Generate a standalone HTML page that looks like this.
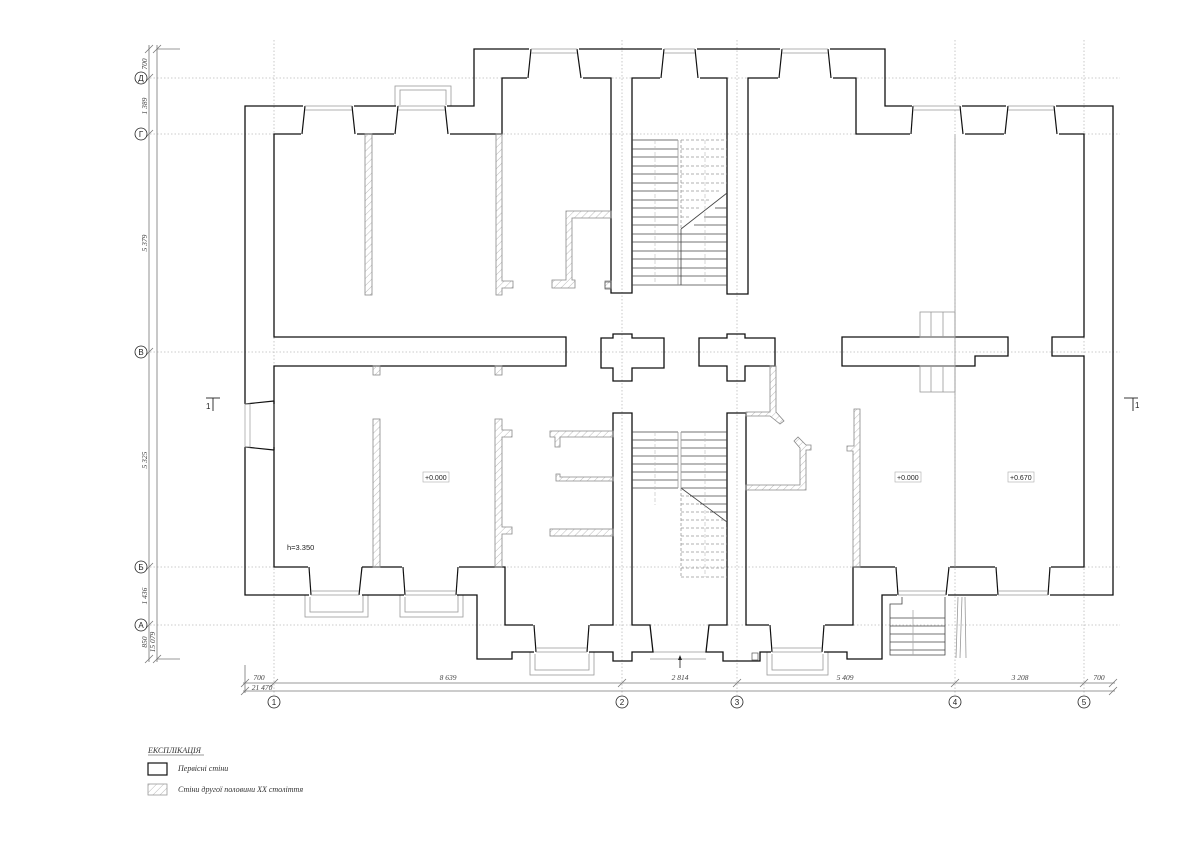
<!DOCTYPE html>
<html><head><meta charset="utf-8"><style>
html,body{margin:0;padding:0;background:#fff;}
svg{display:block;}
.w{fill:none;stroke:#111;stroke-width:1.3;stroke-linejoin:miter}
.g{stroke:#bbb;stroke-width:0.8;stroke-dasharray:1.5 2;fill:none}
.gl{stroke:#999;stroke-width:0.8;fill:none}
.h{fill:url(#hat);stroke:#888;stroke-width:0.8}
.t{font-family:"Liberation Serif",serif;font-style:italic;font-size:7.5px;fill:#444}
.c{fill:#fff;stroke:#222;stroke-width:0.8}
.ct{font-family:"Liberation Sans",sans-serif;font-size:8px;fill:#222;text-anchor:middle}
.st{stroke:#444;stroke-width:0.8}
.sd{stroke:#999;stroke-width:0.8;stroke-dasharray:3 2}
</style></head><body>
<svg width="1200" height="848" viewBox="0 0 1200 848" xmlns="http://www.w3.org/2000/svg">
<defs>
<pattern id="hat" width="5" height="5" patternUnits="userSpaceOnUse" patternTransform="rotate(45)">
<line x1="0" y1="0" x2="0" y2="5" stroke="#bbb" stroke-width="1"/>
</pattern>
</defs>
<rect width="1200" height="848" fill="#fff"/>

<!-- grid -->
<g class="g">
<line x1="150" y1="78" x2="1120" y2="78"/>
<line x1="150" y1="134" x2="1120" y2="134"/>
<line x1="150" y1="352" x2="1120" y2="352"/>
<line x1="150" y1="567" x2="1120" y2="567"/>
<line x1="150" y1="625" x2="1120" y2="625"/>
<line x1="274" y1="40" x2="274" y2="695"/>
<line x1="622" y1="40" x2="622" y2="695"/>
<line x1="737" y1="40" x2="737" y2="695"/>
<line x1="955" y1="40" x2="955" y2="695"/>
<line x1="1084" y1="40" x2="1084" y2="695"/>
</g>

<!-- left dimension -->
<g stroke="#777" stroke-width="0.8">
<line x1="149" y1="45" x2="149" y2="662"/>
<line x1="157" y1="45" x2="157" y2="662"/>
<line x1="157" y1="49" x2="180" y2="49"/>
<line x1="157" y1="659" x2="180" y2="659"/>
<line x1="145" y1="53" x2="153" y2="45"/><line x1="153" y1="53" x2="161" y2="45"/>
<line x1="145" y1="82" x2="153" y2="74"/>
<line x1="145" y1="138" x2="153" y2="130"/>
<line x1="145" y1="356" x2="153" y2="348"/>
<line x1="145" y1="571" x2="153" y2="563"/>
<line x1="145" y1="629" x2="153" y2="621"/>
<line x1="145" y1="663" x2="153" y2="655"/><line x1="153" y1="663" x2="161" y2="655"/>
</g>
<g class="t">
<text transform="translate(147,64) rotate(-90)" text-anchor="middle">700</text>
<text transform="translate(147,106) rotate(-90)" text-anchor="middle">1 389</text>
<text transform="translate(147,243) rotate(-90)" text-anchor="middle">5 379</text>
<text transform="translate(147,460) rotate(-90)" text-anchor="middle">5 325</text>
<text transform="translate(147,596) rotate(-90)" text-anchor="middle">1 436</text>
<text transform="translate(147,642) rotate(-90)" text-anchor="middle">850</text>
<text transform="translate(155,642) rotate(-90)" text-anchor="middle">15 079</text>
</g>
<g>
<circle class="c" cx="141" cy="78" r="6"/><text class="ct" x="141" y="81">Д</text>
<circle class="c" cx="141" cy="134" r="6"/><text class="ct" x="141" y="137">Г</text>
<circle class="c" cx="141" cy="352" r="6"/><text class="ct" x="141" y="355">В</text>
<circle class="c" cx="141" cy="567" r="6"/><text class="ct" x="141" y="570">Б</text>
<circle class="c" cx="141" cy="625" r="6"/><text class="ct" x="141" y="628">А</text>
</g>

<!-- bottom dimension -->
<g stroke="#777" stroke-width="0.8">
<line x1="245" y1="665" x2="245" y2="693"/>
<line x1="243" y1="683" x2="1115" y2="683"/>
<line x1="243" y1="691" x2="1115" y2="691"/>
<g>
<line x1="241" y1="687" x2="249" y2="679"/>
<line x1="270" y1="687" x2="278" y2="679"/>
<line x1="618" y1="687" x2="626" y2="679"/>
<line x1="733" y1="687" x2="741" y2="679"/>
<line x1="951" y1="687" x2="959" y2="679"/>
<line x1="1080" y1="687" x2="1088" y2="679"/>
<line x1="1109" y1="687" x2="1117" y2="679"/>
<line x1="241" y1="695" x2="249" y2="687"/>
<line x1="1109" y1="695" x2="1117" y2="687"/>
</g>
</g>
<g class="t" text-anchor="middle">
<text x="259" y="680">700</text>
<text x="448" y="680">8 639</text>
<text x="680" y="680">2 814</text>
<text x="845" y="680">5 409</text>
<text x="1020" y="680">3 208</text>
<text x="1099" y="680">700</text>
<text x="262" y="690">21 470</text>
</g>
<g>
<circle class="c" cx="274" cy="702" r="6"/><text class="ct" x="274" y="705">1</text>
<circle class="c" cx="622" cy="702" r="6"/><text class="ct" x="622" y="705">2</text>
<circle class="c" cx="737" cy="702" r="6"/><text class="ct" x="737" y="705">3</text>
<circle class="c" cx="955" cy="702" r="6"/><text class="ct" x="955" y="705">4</text>
<circle class="c" cx="1084" cy="702" r="6"/><text class="ct" x="1084" y="705">5</text>
</g>

<!-- balconies / sills gray -->
<g class="gl">
<rect x="395" y="86" width="56" height="20"/><rect x="400" y="90" width="46" height="16"/>
<rect x="305" y="595" width="63" height="22"/><rect x="310" y="595" width="53" height="17"/>
<rect x="400" y="595" width="63" height="22"/><rect x="405" y="595" width="53" height="17"/>
<rect x="530" y="652" width="64" height="23"/><rect x="535" y="652" width="54" height="18"/>
<rect x="767" y="652" width="61" height="23"/><rect x="772" y="652" width="51" height="18"/>
<line x1="650" y1="652" x2="706" y2="652"/><line x1="650" y1="659" x2="706" y2="659"/>
</g>

<!-- main walls -->
<polygon class="w" points="245,106 474,106 474,49 885,49 885,106 1113,106 1113,595 882,595 882,659 847,659 847,652 760,652 760,661 723,661 723,652 706,652 709,625 727,625 727,413 746,413 746,625 853,625 853,567 1084,567 1084,356 1052,356 1052,337 1084,337 1084,134 856,134 856,78 748,78 748,294 727,294 727,78 632,78 632,293 611,293 611,78 502,78 502,134 274,134 274,337 566,337 566,366 274,366 274,567 505,567 505,625 613,625 613,413 632,413 632,625 650,625 653,652 632,652 632,661 613,661 613,652 512,652 512,659 477,659 477,595 245,595"/>
<polygon class="w" points="842,337 1008,337 1008,356 975,356 975,366 842,366"/>
<polygon class="w" points="601,338 613,338 613,334 632,334 632,338 664,338 664,368 632,368 632,381 613,381 613,368 601,368"/>
<polygon class="w" points="699,338 727,338 727,334 745,334 745,338 775,338 775,366 745,366 745,381 727,381 727,366 699,366"/>

<!-- door left -->
<g>
<rect x="244" y="404" width="31" height="43" fill="#fff"/>
<line x1="245" y1="404" x2="274" y2="401" stroke="#111" stroke-width="1.2"/>
<line x1="245" y1="447" x2="274" y2="450" stroke="#111" stroke-width="1.2"/>
<line x1="274" y1="401" x2="274" y2="450" stroke="#111" stroke-width="1.2"/>
<rect x="245" y="404" width="5" height="43" fill="none" stroke="#999" stroke-width="0.7"/>
</g>

<!-- windows -->
<g id="wins">
<!-- top windows: outer yo, inner yi -->
<g fill="#fff" stroke="none">
<rect x="303" y="105" width="51" height="3"/><rect x="396" y="105" width="51" height="3"/>
<rect x="529" y="48" width="50" height="3"/><rect x="662" y="48" width="35" height="3"/><rect x="780" y="48" width="50" height="3"/>
<rect x="912" y="105" width="50" height="3"/><rect x="1006" y="105" width="50" height="3"/>
<rect x="301" y="132" width="56" height="4"/><rect x="394" y="132" width="56" height="4"/>
<rect x="527" y="76" width="56" height="4"/><rect x="660" y="76" width="40" height="4"/><rect x="778" y="76" width="55" height="4"/>
<rect x="910" y="132" width="55" height="4"/><rect x="1004" y="132" width="55" height="4"/>
<rect x="308" y="565" width="54" height="4"/><rect x="402" y="565" width="57" height="4"/>
<rect x="895" y="565" width="55" height="4"/><rect x="995" y="565" width="56" height="4"/>
<rect x="309" y="593" width="53" height="4"/><rect x="404" y="593" width="53" height="4"/>
<rect x="897" y="593" width="51" height="4"/><rect x="997" y="593" width="53" height="4"/>
<rect x="533" y="623" width="57" height="4"/><rect x="769" y="623" width="56" height="4"/>
<rect x="534" y="650" width="55" height="4"/><rect x="771" y="650" width="53" height="4"/>
</g>
<g stroke="#111" stroke-width="1.2">
<line x1="305" y1="106" x2="302" y2="134"/><line x1="352" y1="106" x2="355" y2="134"/>
<line x1="398" y1="106" x2="395" y2="134"/><line x1="445" y1="106" x2="448" y2="134"/>
<line x1="531" y1="49" x2="528" y2="78"/><line x1="577" y1="49" x2="581" y2="78"/>
<line x1="664" y1="49" x2="661" y2="78"/><line x1="695" y1="49" x2="698" y2="78"/>
<line x1="782" y1="49" x2="779" y2="78"/><line x1="828" y1="49" x2="831" y2="78"/>
<line x1="913" y1="106" x2="911" y2="134"/><line x1="960" y1="106" x2="963" y2="134"/>
<line x1="1008" y1="106" x2="1005" y2="134"/><line x1="1054" y1="106" x2="1057" y2="134"/>
<line x1="311" y1="595" x2="309" y2="567"/><line x1="359" y1="595" x2="362" y2="567"/>
<line x1="405" y1="595" x2="403" y2="567"/><line x1="456" y1="595" x2="458" y2="567"/>
<line x1="898" y1="595" x2="896" y2="567"/><line x1="946" y1="595" x2="949" y2="567"/>
<line x1="998" y1="595" x2="996" y2="567"/><line x1="1048" y1="595" x2="1050" y2="567"/>
<line x1="536" y1="652" x2="534" y2="625"/><line x1="587" y1="652" x2="589" y2="625"/>
<line x1="772" y1="652" x2="770" y2="625"/><line x1="822" y1="652" x2="824" y2="625"/>
</g>
<g stroke="#999" stroke-width="0.7">
<line x1="305" y1="106" x2="352" y2="106"/><line x1="305" y1="110" x2="352" y2="110"/>
<line x1="398" y1="106" x2="445" y2="106"/><line x1="398" y1="110" x2="445" y2="110"/>
<line x1="531" y1="49" x2="577" y2="49"/><line x1="531" y1="53" x2="577" y2="53"/>
<line x1="664" y1="49" x2="695" y2="49"/><line x1="664" y1="53" x2="695" y2="53"/>
<line x1="782" y1="49" x2="828" y2="49"/><line x1="782" y1="53" x2="828" y2="53"/>
<line x1="913" y1="106" x2="960" y2="106"/><line x1="913" y1="110" x2="960" y2="110"/>
<line x1="1008" y1="106" x2="1054" y2="106"/><line x1="1008" y1="110" x2="1054" y2="110"/>
<line x1="311" y1="595" x2="359" y2="595"/><line x1="311" y1="591" x2="359" y2="591"/>
<line x1="405" y1="595" x2="456" y2="595"/><line x1="405" y1="591" x2="456" y2="591"/>
<line x1="898" y1="595" x2="946" y2="595"/><line x1="898" y1="591" x2="946" y2="591"/>
<line x1="998" y1="595" x2="1048" y2="595"/><line x1="998" y1="591" x2="1048" y2="591"/>
<line x1="536" y1="652" x2="587" y2="652"/><line x1="536" y1="648" x2="587" y2="648"/>
<line x1="772" y1="652" x2="822" y2="652"/><line x1="772" y1="648" x2="822" y2="648"/>
</g>
</g>

<!-- hatched partitions -->
<g class="h">
<rect x="365" y="134" width="7" height="161"/>
<polygon points="496,134 502,134 502,281 513,281 513,288 502,288 502,295 496,295"/>
<polygon points="566,211 611,211 611,218 572,218 572,280 575,280 575,288 552,288 552,280 566,280"/>
<rect x="605" y="281" width="6" height="7"/>
<rect x="373" y="366" width="7" height="9"/><rect x="495" y="366" width="7" height="9"/>
<rect x="373" y="419" width="7" height="148"/>
<polygon points="495,419 502,419 502,430 512,430 512,437 502,437 502,527 512,527 512,534 502,534 502,567 495,567"/>
<polygon points="550,431 613,431 613,437 560,437 560,447 555,447 555,437 550,437"/>
<polygon points="556,474 560,474 560,477 613,477 613,481 556,481"/>
<rect x="550" y="529" width="63" height="7"/>
<polygon points="770,366 776,366 776,412 784,421 780,424 770,416 746,416 746,412 770,412"/>
<polygon points="746,485 800,485 800,448 794,441 798,437 806,445 811,445 811,450 806,450 806,490 746,490"/>
<polygon points="854,409 860,409 860,567 853,567 853,451 847,451 847,446 854,446"/>
</g>

<!-- gray partitions and small steps -->
<g class="gl">
<line x1="955" y1="134" x2="955" y2="567"/>
<rect x="920" y="312" width="35" height="25"/><line x1="931" y1="312" x2="931" y2="337"/><line x1="943" y1="312" x2="943" y2="337"/>
<rect x="920" y="366" width="35" height="26"/><line x1="931" y1="366" x2="931" y2="392"/><line x1="943" y1="366" x2="943" y2="392"/>
<line x1="958" y1="597" x2="956" y2="658"/><line x1="962" y1="597" x2="960" y2="658"/>
<line x1="965" y1="597" x2="966" y2="658"/>
</g>

<!-- exterior stair lower right -->
<g stroke="#444" stroke-width="0.8" fill="none">
<polyline points="902,597 902,604 890,604 890,655 945,655 945,597"/>
<line x1="890" y1="618" x2="945" y2="618"/>
<line x1="890" y1="626" x2="945" y2="626"/>
<line x1="890" y1="634" x2="945" y2="634"/>
<line x1="890" y1="642" x2="945" y2="642"/>
<line x1="890" y1="650" x2="945" y2="650"/>
<line x1="913" y1="610" x2="913" y2="655" stroke="#aaa"/>
</g>
<rect x="752" y="653" width="6" height="7" fill="none" stroke="#555" stroke-width="0.7"/>
<rect x="605" y="282" width="6" height="7" fill="none" stroke="#555" stroke-width="0.7"/>

<!-- upper stair -->
<g>
<g class="st">
<line x1="632" y1="140" x2="678" y2="140"/><line x1="632" y1="149" x2="678" y2="149"/>
<line x1="632" y1="157" x2="678" y2="157"/><line x1="632" y1="166" x2="678" y2="166"/>
<line x1="632" y1="174" x2="678" y2="174"/><line x1="632" y1="183" x2="678" y2="183"/>
<line x1="632" y1="191" x2="678" y2="191"/><line x1="632" y1="200" x2="678" y2="200"/>
<line x1="632" y1="208" x2="678" y2="208"/><line x1="632" y1="217" x2="678" y2="217"/>
<line x1="632" y1="225" x2="678" y2="225"/><line x1="632" y1="234" x2="727" y2="234"/>
<line x1="632" y1="242" x2="727" y2="242"/><line x1="632" y1="251" x2="727" y2="251"/>
<line x1="632" y1="259" x2="727" y2="259"/><line x1="632" y1="268" x2="727" y2="268"/>
<line x1="632" y1="276" x2="727" y2="276"/><line x1="632" y1="285" x2="727" y2="285"/>
<line x1="704" y1="217" x2="727" y2="217"/><line x1="715" y1="208" x2="727" y2="208"/>
<line x1="694" y1="225" x2="727" y2="225"/>
<line x1="681" y1="229" x2="727" y2="193"/>
<line x1="681" y1="229" x2="681" y2="285"/>
<line x1="678" y1="140" x2="678" y2="285" stroke="#999"/>
</g>
<g class="sd">
<line x1="681" y1="140" x2="727" y2="140"/><line x1="681" y1="149" x2="727" y2="149"/>
<line x1="681" y1="157" x2="727" y2="157"/><line x1="681" y1="166" x2="727" y2="166"/>
<line x1="681" y1="174" x2="727" y2="174"/><line x1="681" y1="183" x2="727" y2="183"/>
<line x1="681" y1="191" x2="720" y2="191"/><line x1="681" y1="200" x2="710" y2="200"/>
<line x1="681" y1="208" x2="700" y2="208"/><line x1="681" y1="217" x2="690" y2="217"/>
<line x1="681" y1="140" x2="681" y2="229"/>
</g>
<line x1="655" y1="140" x2="655" y2="285" stroke="#bbb" stroke-width="0.6" stroke-dasharray="4 2"/>
<line x1="705" y1="140" x2="705" y2="285" stroke="#bbb" stroke-width="0.6" stroke-dasharray="4 2"/>
</g>

<!-- lower stair -->
<g>
<g class="st">
<line x1="632" y1="432" x2="678" y2="432"/><line x1="632" y1="440" x2="678" y2="440"/>
<line x1="632" y1="448" x2="678" y2="448"/><line x1="632" y1="456" x2="678" y2="456"/>
<line x1="632" y1="464" x2="678" y2="464"/><line x1="632" y1="472" x2="678" y2="472"/>
<line x1="632" y1="480" x2="678" y2="480"/><line x1="632" y1="488" x2="678" y2="488"/>
<line x1="681" y1="432" x2="727" y2="432"/><line x1="681" y1="440" x2="727" y2="440"/>
<line x1="681" y1="448" x2="727" y2="448"/><line x1="681" y1="456" x2="727" y2="456"/>
<line x1="681" y1="464" x2="727" y2="464"/><line x1="681" y1="472" x2="727" y2="472"/>
<line x1="681" y1="480" x2="727" y2="480"/><line x1="681" y1="488" x2="727" y2="488"/>
<line x1="690" y1="496" x2="727" y2="496"/><line x1="700" y1="504" x2="727" y2="504"/>
<line x1="710" y1="512" x2="727" y2="512"/>
<line x1="681" y1="488" x2="727" y2="522"/>
<line x1="678" y1="432" x2="678" y2="488" stroke="#999"/>
<line x1="681" y1="432" x2="681" y2="488" stroke="#999"/>
</g>
<g class="sd">
<line x1="681" y1="496" x2="690" y2="496"/><line x1="681" y1="504" x2="700" y2="504"/>
<line x1="681" y1="512" x2="710" y2="512"/><line x1="681" y1="520" x2="727" y2="520"/>
<line x1="681" y1="528" x2="727" y2="528"/><line x1="681" y1="536" x2="727" y2="536"/>
<line x1="681" y1="544" x2="727" y2="544"/><line x1="681" y1="552" x2="727" y2="552"/>
<line x1="681" y1="560" x2="727" y2="560"/><line x1="681" y1="568" x2="727" y2="568"/>
<line x1="681" y1="577" x2="727" y2="577"/>
<line x1="681" y1="488" x2="681" y2="577"/>
</g>
<line x1="655" y1="432" x2="655" y2="505" stroke="#bbb" stroke-width="0.6" stroke-dasharray="4 2"/>
<line x1="705" y1="432" x2="705" y2="577" stroke="#bbb" stroke-width="0.6" stroke-dasharray="4 2"/>
</g>

<!-- entry arrow -->
<line x1="680" y1="668" x2="680" y2="657" stroke="#222" stroke-width="0.8"/>
<polygon points="680,655 678,660 682,660" fill="#222"/>

<!-- section markers -->
<g stroke="#222" stroke-width="0.9">
<line x1="206" y1="398" x2="220" y2="398"/><line x1="213" y1="398" x2="213" y2="411"/>
<line x1="1124" y1="398" x2="1138" y2="398"/><line x1="1133" y1="398" x2="1133" y2="411"/>
</g>
<text x="206" y="409" font-family="Liberation Sans,sans-serif" font-size="8" fill="#222">1</text>
<text x="1135" y="408" font-family="Liberation Sans,sans-serif" font-size="8" fill="#222">1</text>

<!-- level labels -->
<g font-family="Liberation Sans,sans-serif" font-size="7" fill="#222">
<rect x="423" y="472" width="26" height="10" fill="#fff" stroke="#aaa" stroke-width="0.6"/>
<text x="425" y="480">+0.000</text>
<rect x="895" y="472" width="26" height="10" fill="#fff" stroke="#aaa" stroke-width="0.6"/>
<text x="897" y="480">+0.000</text>
<rect x="1008" y="472" width="26" height="10" fill="#fff" stroke="#aaa" stroke-width="0.6"/>
<text x="1010" y="480">+0.670</text>
<text x="287" y="550" font-size="7.5">h=3.350</text>
</g>

<!-- legend -->
<g font-family="Liberation Serif,serif" font-style="italic" font-size="8" fill="#333">
<text x="148" y="753">ЕКСПЛІКАЦІЯ</text>
<line x1="148" y1="755" x2="204" y2="755" stroke="#333" stroke-width="0.6"/>
<rect x="148" y="763" width="19" height="12" fill="#fff" stroke="#111" stroke-width="1.2"/>
<text x="178" y="771">Первісні стіни</text>
<rect x="148" y="784" width="19" height="11" fill="url(#hat)" stroke="#999" stroke-width="0.8"/>
<text x="178" y="792">Стіни другої половини XX століття</text>
</g>
</svg>
</body></html>
